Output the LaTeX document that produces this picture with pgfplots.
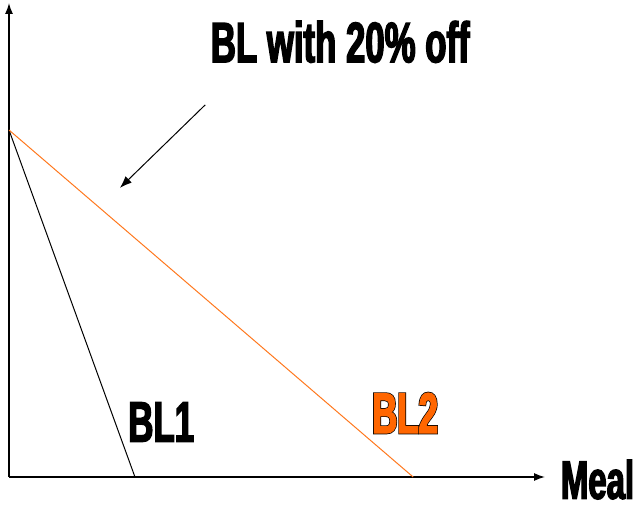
\documentclass[border=0pt]{standalone}
\usepackage{pgfplots}
\pgfplotsset{compat=1.18}
\usepackage{fontspec}
\usetikzlibrary{arrows.meta}
\setmainfont{Liberation Sans}
\newfontfamily\heavy[FakeStretch=0.61,FakeBold=2.5]{Liberation Sans Bold}
\newfontfamily\heavyout[FakeStretch=0.61,FakeBold=5]{Liberation Sans Bold}
\definecolor{bltwo}{RGB}{255,102,0}
\definecolor{bltwoline}{RGB}{255,120,30}
\begin{document}
\begin{tikzpicture}
\path[use as bounding box] (-9pt,-29pt) rectangle (634pt,477pt);
\begin{axis}[
  scale only axis, width=536pt, height=474pt,
  xmin=0, xmax=100, ymin=0, ymax=100,
  axis x line=bottom, axis y line=left,
  axis line style={line width=1.3pt, -{Latex[length=11pt,width=8pt]}},
  ticks=none, clip=false,
]
\addplot[black, line width=1pt] coordinates {(0,73.2) (23.5,0)};
\addplot[bltwoline, line width=1pt] coordinates {(0,73.2) (75.4,0)};
\draw[line width=1pt, -{Latex[length=12pt,width=9pt]}] (axis cs:36.6,78.5) -- (axis cs:20.7,61.0);
\node at (axis cs:61.8,91.8) {\heavy\fontsize{57}{57}\selectfont BL with 20\% off};
\node at (axis cs:28.4,11.6) {\heavy\fontsize{57}{57}\selectfont BL1};
\node at (axis cs:73.9,13.5) {\heavyout\fontsize{57}{57}\selectfont BL2};
\node[text=bltwo] at (axis cs:73.9,13.5) {\heavy\fontsize{57}{57}\selectfont BL2};
\node[inner sep=0pt, anchor=base] at (axis cs:109.8,-4.6) {\heavy\fontsize{54}{54}\selectfont Meal};
\end{axis}
\end{tikzpicture}
\end{document}
